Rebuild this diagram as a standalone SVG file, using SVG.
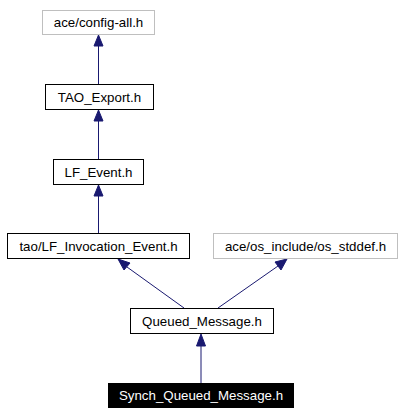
<svg xmlns="http://www.w3.org/2000/svg" width="404" height="415" viewBox="0 0 404 415">
<style>
.n rect{fill:#fff;stroke:#000;stroke-width:1}
.g rect{fill:#fff;stroke:#bfbfbf;stroke-width:1}
.h rect{fill:#000;stroke:#000;stroke-width:1}
text{font-family:"Liberation Sans",Arial,sans-serif;font-size:13.3px;text-anchor:middle;fill:#000}
.h text{fill:#fff}
.e line{stroke:#191970;stroke-width:1}
.e polygon{fill:#191970;stroke:#191970;stroke-width:1}
</style>
<rect width="404" height="415" fill="#fff"/>
<g class="e" id="edges">
<line x1="98.5" y1="84" x2="98.5" y2="45"/>
<polygon points="98.5,35 94,46 103,46"/>
<line x1="98.5" y1="159" x2="98.5" y2="120"/>
<polygon points="98.5,110 94,121 103,121"/>
<line x1="98.5" y1="233" x2="98.5" y2="195"/>
<polygon points="98.5,185 94,196 103,196"/>
<line x1="184" y1="308" x2="127" y2="267"/>
<polygon points="118,259 124,270 130,263"/>
<line x1="218" y1="308" x2="278" y2="266"/>
<polygon points="287,259 275,262 281,270"/>
<line x1="201" y1="383" x2="201" y2="345"/>
<polygon points="201,334 196.5,346 205.5,346"/>
</g>
<g class="g" id="config_all"><rect x="42.5" y="10.5" width="112" height="24"/><text x="98.5" y="27">ace/config-all.h</text></g>
<g class="n" id="tao_export"><rect x="45.5" y="84.5" width="108" height="25"/><text x="99.5" y="101.5">TAO_Export.h</text></g>
<g class="n" id="lf_event"><rect x="53.5" y="159.5" width="90" height="25"/><text x="98.5" y="176.5">LF_Event.h</text></g>
<g class="n" id="lf_invocation_event"><rect x="7.5" y="233.5" width="182" height="25"/><text x="98.5" y="250.5">tao/LF_Invocation_Event.h</text></g>
<g class="g" id="os_stddef"><rect x="213.5" y="233.5" width="184" height="25"/><text x="305.5" y="250.5">ace/os_include/os_stddef.h</text></g>
<g class="n" id="queued_message"><rect x="130.5" y="308.5" width="143" height="25"/><text x="202" y="325.5">Queued_Message.h</text></g>
<g class="h" id="synch_queued_message"><rect x="108.5" y="383.5" width="185" height="24"/><text x="201" y="400">Synch_Queued_Message.h</text></g>
</svg>
